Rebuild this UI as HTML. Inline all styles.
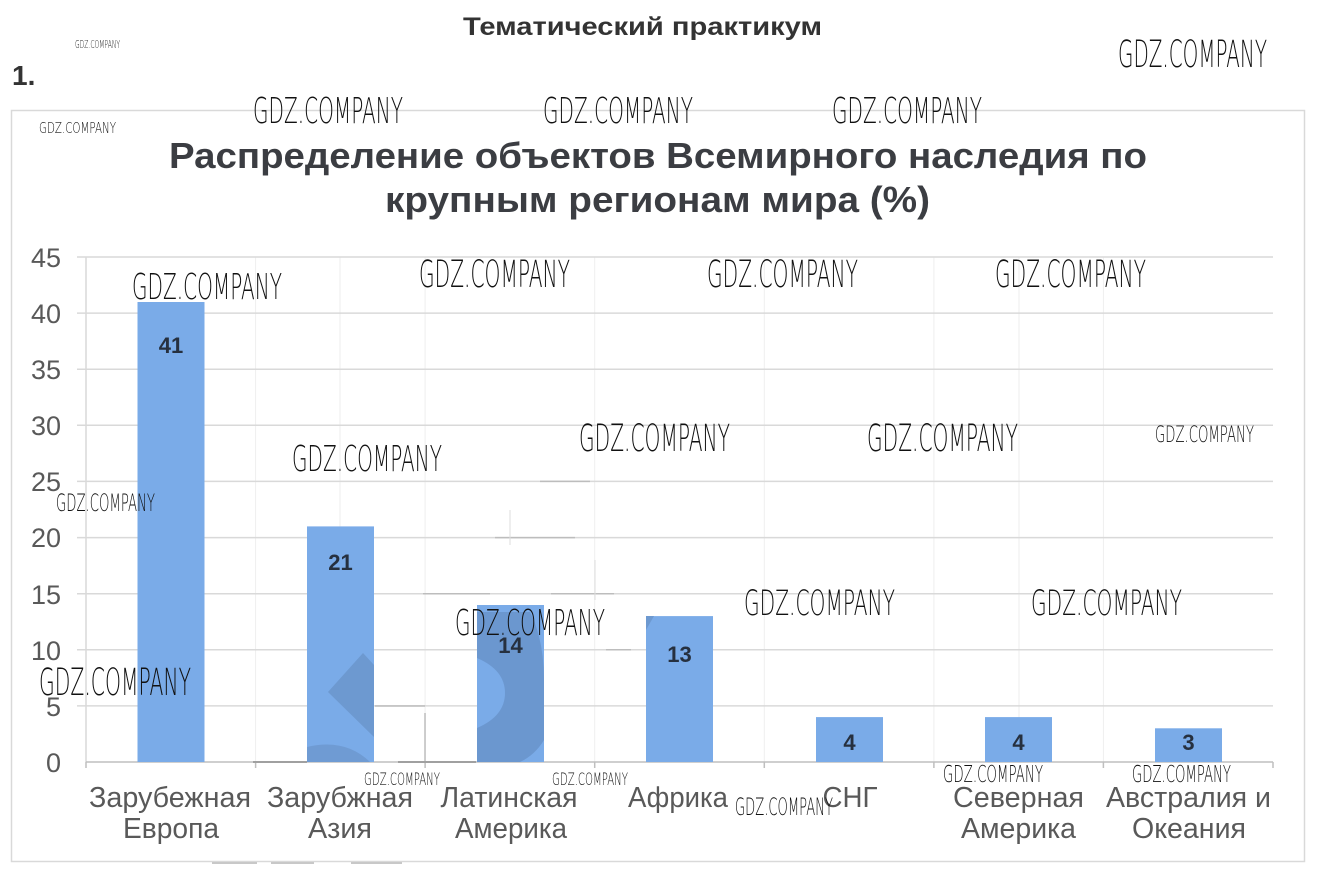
<!DOCTYPE html>
<html><head><meta charset="utf-8"><style>
html,body{margin:0;padding:0;background:#fff;}
svg{display:block;}
.wm{font-family:"DejaVu Sans","Liberation Sans",sans-serif;font-weight:200;fill:#111;}
.cat{font-family:"Liberation Sans","DejaVu Sans",sans-serif;font-size:29px;fill:#595959;}
.yl{font-family:"Liberation Sans","DejaVu Sans",sans-serif;font-size:27px;fill:#595959;}
.dl{font-family:"Liberation Sans","DejaVu Sans",sans-serif;font-size:22px;font-weight:bold;fill:#26303f;}
</style></head><body>
<svg width="1317" height="872" viewBox="0 0 1317 872" xmlns="http://www.w3.org/2000/svg">
<rect width="1317" height="872" fill="#fff"/>
<!-- header -->
<text x="463" y="35" font-family="Liberation Sans, sans-serif" font-weight="bold" font-size="25" fill="#333" textLength="359" lengthAdjust="spacingAndGlyphs">Тематический практикум</text>
<text x="12" y="85" font-family="Liberation Sans, sans-serif" font-weight="bold" font-size="28" fill="#333">1.</text>
<!-- frame -->
<rect x="11.5" y="110.5" width="1293" height="751" fill="none" stroke="#d9d9d9" stroke-width="1.5"/>
<g stroke="#c8c8c8" stroke-width="2">
<line x1="212" y1="863" x2="257" y2="863"/><line x1="271" y1="863" x2="314" y2="863"/><line x1="351" y1="863" x2="402" y2="863"/>
</g>
<!-- title -->
<text x="169" y="168" font-family="Liberation Sans, sans-serif" font-weight="bold" font-size="36" fill="#3b3d42" textLength="978" lengthAdjust="spacingAndGlyphs">Распределение объектов Всемирного наследия по</text>
<text x="385" y="212" font-family="Liberation Sans, sans-serif" font-weight="bold" font-size="36" fill="#3b3d42" textLength="545" lengthAdjust="spacingAndGlyphs">крупным регионам мира (%)</text>
<!-- faint vertical lines -->
<g stroke="#eeeeee" stroke-width="1">
<line x1="255.6" y1="257" x2="255.6" y2="762"/><line x1="425.1" y1="257" x2="425.1" y2="762"/><line x1="594.7" y1="257" x2="594.7" y2="762"/><line x1="764.3" y1="257" x2="764.3" y2="762"/><line x1="933.9" y1="257" x2="933.9" y2="762"/><line x1="1103.4" y1="257" x2="1103.4" y2="762"/>
<line x1="340" y1="257" x2="340" y2="762"/><line x1="1019" y1="257" x2="1019" y2="762"/>
</g>
<!-- gridlines -->
<g stroke="#d9d9d9" stroke-width="1.5">
<line x1="77" y1="257" x2="1273" y2="257"/>
<line x1="77" y1="313.1" x2="1273" y2="313.1"/>
<line x1="77" y1="369.2" x2="1273" y2="369.2"/>
<line x1="77" y1="425.3" x2="1273" y2="425.3"/>
<line x1="77" y1="481.4" x2="1273" y2="481.4"/>
<line x1="77" y1="537.6" x2="1273" y2="537.6"/>
<line x1="77" y1="593.7" x2="1273" y2="593.7"/>
<line x1="77" y1="649.8" x2="1273" y2="649.8"/>
<line x1="77" y1="705.9" x2="1273" y2="705.9"/>
<line x1="86" y1="257" x2="86" y2="762"/>
</g>
<!-- darker artifact segments -->
<g stroke="#bdbdbd" stroke-width="1.5">
<line x1="375" y1="706" x2="425" y2="706"/>
<line x1="423" y1="593.7" x2="490" y2="593.7"/>
<line x1="551" y1="593.7" x2="614" y2="593.7"/>
<line x1="606" y1="649.8" x2="631" y2="649.8"/>
<line x1="495" y1="537.6" x2="575" y2="537.6"/>
<line x1="540" y1="481.4" x2="590" y2="481.4"/>
<line x1="425" y1="713" x2="425" y2="762"/>
</g>
<g stroke="#dddddd" stroke-width="1">
<line x1="510" y1="510" x2="510" y2="545"/>
<line x1="595" y1="560" x2="595" y2="600"/>
</g>
<!-- x axis -->
<g stroke="#bfbfbf" stroke-width="1.5">
<line x1="86" y1="762" x2="1273" y2="762"/>
<line x1="86" y1="762" x2="86" y2="768"/><line x1="255.6" y1="762" x2="255.6" y2="768"/><line x1="425.1" y1="762" x2="425.1" y2="768"/><line x1="594.7" y1="762" x2="594.7" y2="768"/><line x1="764.3" y1="762" x2="764.3" y2="768"/><line x1="933.9" y1="762" x2="933.9" y2="768"/><line x1="1103.4" y1="762" x2="1103.4" y2="768"/><line x1="1273" y1="762" x2="1273" y2="768"/>
</g>
<g stroke="#a0a0a0" stroke-width="2">
<line x1="253" y1="762" x2="307" y2="762"/><line x1="398" y1="762" x2="476" y2="762"/>
</g>
<!-- bars -->
<g fill="#7aabe8">
<rect x="137.5" y="302" width="67" height="460"/>
<rect x="307" y="526.4" width="67" height="235.6"/>
<rect x="477" y="605" width="67" height="157"/>
<rect x="646" y="616.1" width="67" height="145.9"/>
<rect x="816" y="717.1" width="67" height="44.9"/>
<rect x="985" y="717.1" width="67" height="44.9"/>
<rect x="1155" y="728.3" width="67" height="33.7"/>
</g>
<!-- overlay shapes -->
<polygon points="328,692 363,653 374,665 374,737" fill="#6d99d0"/>
<path d="M307,747 Q345,738 370,762 L307,762 Z" fill="#6f9bd3"/>
<path d="M477,612 L530,612 Q544,640 544,680 L544,740 Q535,755 520,762 L477,762 Z" fill="#6b97cf"/>
<path d="M477,658 Q505,670 505,693 Q505,716 477,728 Z" fill="#7aabe8"/>
<path d="M646,616 L654,616 L646,630 Z" fill="#6d99d0"/>
<!-- data labels -->
<g class="dl" text-anchor="middle">
<text x="171" y="353">41</text>
<text x="340.5" y="570">21</text>
<text x="510.5" y="653">14</text>
<text x="679.5" y="662">13</text>
<text x="849.5" y="750">4</text>
<text x="1018.5" y="750">4</text>
<text x="1188.5" y="750">3</text>
</g>
<!-- y labels -->
<g class="yl" text-anchor="end">
<text x="61" y="267">45</text>
<text x="61" y="323">40</text>
<text x="61" y="379">35</text>
<text x="61" y="435">30</text>
<text x="61" y="491">25</text>
<text x="61" y="547">20</text>
<text x="61" y="604">15</text>
<text x="61" y="660">10</text>
<text x="61" y="716">5</text>
<text x="61" y="772">0</text>
</g>
<!-- category labels -->
<g class="cat" text-anchor="middle">
<text x="170" y="807" textLength="162" lengthAdjust="spacingAndGlyphs">Зарубежная</text>
<text x="171" y="838" textLength="96" lengthAdjust="spacingAndGlyphs">Европа</text>
<text x="340" y="807" textLength="146" lengthAdjust="spacingAndGlyphs">Зарубжная</text>
<text x="340" y="838" textLength="64" lengthAdjust="spacingAndGlyphs">Азия</text>
<text x="509" y="807" textLength="137" lengthAdjust="spacingAndGlyphs">Латинская</text>
<text x="511" y="838" textLength="112" lengthAdjust="spacingAndGlyphs">Америка</text>
<text x="678" y="807" textLength="100" lengthAdjust="spacingAndGlyphs">Африка</text>
<text x="850" y="807" textLength="55" lengthAdjust="spacingAndGlyphs">СНГ</text>
<text x="1018.5" y="807" textLength="131" lengthAdjust="spacingAndGlyphs">Северная</text>
<text x="1018.5" y="838" textLength="115" lengthAdjust="spacingAndGlyphs">Америка</text>
<text x="1188.5" y="807" textLength="165" lengthAdjust="spacingAndGlyphs">Австралия и</text>
<text x="1189" y="838" textLength="114" lengthAdjust="spacingAndGlyphs">Океания</text>
</g>
<!-- watermarks -->
<g class="wm">
<text x="75" y="48" font-size="11" textLength="45" lengthAdjust="spacingAndGlyphs">GDZ.COMPANY</text>
<text x="1118" y="67" font-size="37" textLength="149" lengthAdjust="spacingAndGlyphs">GDZ.COMPANY</text>
<text x="253" y="123" font-size="36" textLength="150" lengthAdjust="spacingAndGlyphs">GDZ.COMPANY</text>
<text x="543" y="123" font-size="36" textLength="150" lengthAdjust="spacingAndGlyphs">GDZ.COMPANY</text>
<text x="832" y="123" font-size="36" textLength="150" lengthAdjust="spacingAndGlyphs">GDZ.COMPANY</text>
<text x="39" y="133" font-size="15" textLength="77" lengthAdjust="spacingAndGlyphs">GDZ.COMPANY</text>
<text x="132" y="299" font-size="36" textLength="150" lengthAdjust="spacingAndGlyphs">GDZ.COMPANY</text>
<text x="419" y="287" font-size="37" textLength="151" lengthAdjust="spacingAndGlyphs">GDZ.COMPANY</text>
<text x="707" y="287" font-size="37" textLength="151" lengthAdjust="spacingAndGlyphs">GDZ.COMPANY</text>
<text x="995" y="287" font-size="37" textLength="151" lengthAdjust="spacingAndGlyphs">GDZ.COMPANY</text>
<text x="292" y="471" font-size="36" textLength="150" lengthAdjust="spacingAndGlyphs">GDZ.COMPANY</text>
<text x="579" y="451" font-size="37" textLength="151" lengthAdjust="spacingAndGlyphs">GDZ.COMPANY</text>
<text x="867" y="451" font-size="37" textLength="151" lengthAdjust="spacingAndGlyphs">GDZ.COMPANY</text>
<text x="1155" y="442" font-size="22" textLength="99" lengthAdjust="spacingAndGlyphs">GDZ.COMPANY</text>
<text x="56" y="511" font-size="24" textLength="99" lengthAdjust="spacingAndGlyphs">GDZ.COMPANY</text>
<text x="744" y="615" font-size="35" textLength="151" lengthAdjust="spacingAndGlyphs">GDZ.COMPANY</text>
<text x="1031" y="615" font-size="35" textLength="151" lengthAdjust="spacingAndGlyphs">GDZ.COMPANY</text>
<text x="455" y="635" font-size="36" textLength="150" lengthAdjust="spacingAndGlyphs">GDZ.COMPANY</text>
<text x="39" y="695" font-size="37" textLength="152" lengthAdjust="spacingAndGlyphs">GDZ.COMPANY</text>
<text x="364" y="785" font-size="17" textLength="76" lengthAdjust="spacingAndGlyphs">GDZ.COMPANY</text>
<text x="552" y="785" font-size="17" textLength="76" lengthAdjust="spacingAndGlyphs">GDZ.COMPANY</text>
<text x="735" y="815" font-size="24" textLength="98" lengthAdjust="spacingAndGlyphs">GDZ.COMPANY</text>
<text x="943" y="782" font-size="23" textLength="100" lengthAdjust="spacingAndGlyphs">GDZ.COMPANY</text>
<text x="1132" y="782" font-size="23" textLength="99" lengthAdjust="spacingAndGlyphs">GDZ.COMPANY</text>
</g>
</svg>
</body></html>
